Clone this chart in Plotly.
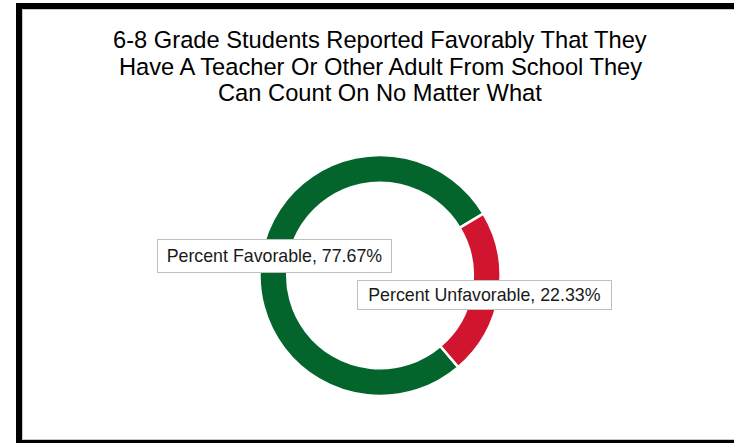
import plotly.graph_objects as go

# ---- data ----
labels = ["Percent Favorable", "Percent Unfavorable"]
values = [77.67, 22.33]
colors = ["#03652C", "#D1152E"]
title_lines = [
    "6-8 Grade Students Reported Favorably That They",
    "Have A Teacher Or Other Adult From School They",
    "Can Count On No Matter What",
]

W, H = 734, 443
def px(x):
    return x / W
def py(y):
    return 1 - y / H

FONT = "Liberation Sans, Arial, sans-serif"

cx, cy, r = 380.0, 275.5, 120.5

fig = go.Figure()
fig.add_trace(go.Pie(
    labels=labels,
    values=values,
    hole=0.77,
    sort=False,
    direction="clockwise",
    rotation=139.5,
    marker=dict(colors=colors, line=dict(color="white", width=2.5)),
    textinfo="none",
    hoverinfo="label+percent",
    showlegend=False,
    domain=dict(x=[px(cx - r), px(cx + r)], y=[py(cy + r), py(cy - r)]),
))

# title lines
for i, line in enumerate(title_lines):
    fig.add_annotation(
        text=line, xref="paper", yref="paper",
        x=px(380), y=py(39.5 + 27 * i), xanchor="center", yanchor="middle",
        showarrow=False, font=dict(family=FONT, size=23.7, color="#000000"),
    )

# data label boxes
box_specs = [
    dict(cx=274.5, cy=256.3, w=233, h=32),
    dict(cx=484.5, cy=294.7, w=253, h=28),
]
for lab, val, b in zip(labels, values, box_specs):
    fig.add_annotation(
        text=f"{lab}, {val:.2f}%", xref="paper", yref="paper",
        x=px(b["cx"]), y=py(b["cy"]), xanchor="center", yanchor="middle",
        showarrow=False, width=b["w"], height=b["h"], borderpad=0,
        bgcolor="white", bordercolor="#BFBFBF", borderwidth=1,
        font=dict(family=FONT, size=17.8, color="#1A1A1A"),
    )

# outer frame
fig.add_shape(type="rect", xref="paper", yref="paper",
              x0=px(19), x1=px(740), y0=py(443), y1=py(6),
              line=dict(color="black", width=6), fillcolor="rgba(0,0,0,0)", layer="above")
fig.add_shape(type="rect", xref="paper", yref="paper",
              x0=px(22.5), x1=px(740), y0=py(439.5), y1=py(9.5),
              line=dict(color="#C8C8C8", width=1), fillcolor="rgba(0,0,0,0)", layer="above")

fig.update_layout(
    width=W, height=H,
    margin=dict(l=0, r=0, t=0, b=0),
    paper_bgcolor="white", plot_bgcolor="white",
    showlegend=False,
)

fig.write_html("out.html")
